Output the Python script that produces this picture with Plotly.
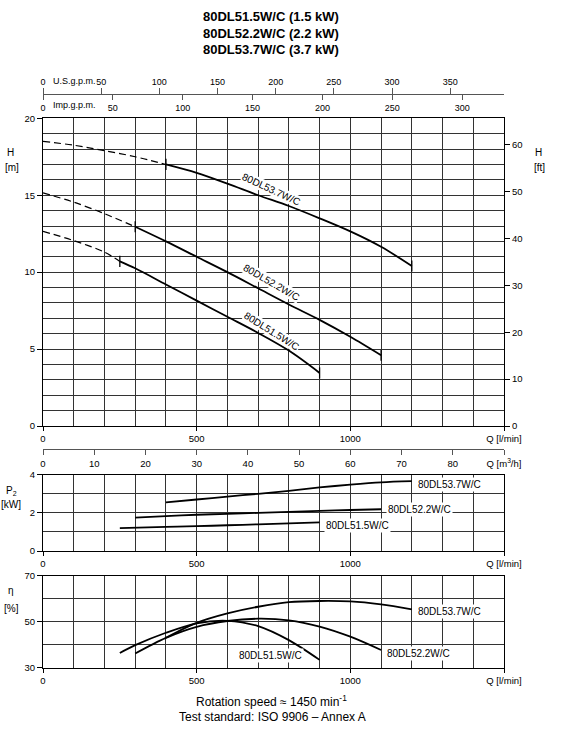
import plotly.graph_objects as go

W, HGT = 565, 730

# ---------------- data ----------------
# H-Q curves (l/min, m)
Q_37_dash = [0, 100, 200, 300, 400]
H_37_dash = [18.5, 18.25, 17.9, 17.5, 17.0]
Q_37 = [400, 500, 600, 700, 800, 900, 1000, 1100, 1200]
H_37 = [17.0, 16.45, 15.75, 15.0, 14.3, 13.5, 12.65, 11.65, 10.4]

Q_22_dash = [0, 100, 200, 300]
H_22_dash = [15.15, 14.55, 13.8, 12.95]
Q_22 = [300, 400, 500, 600, 700, 800, 900, 1000, 1100]
H_22 = [12.95, 12.0, 11.0, 10.0, 8.95, 7.9, 6.9, 5.8, 4.6]

Q_15_dash = [0, 100, 200, 250]
H_15_dash = [12.65, 12.05, 11.3, 10.7]
Q_15 = [250, 300, 400, 500, 600, 700, 800, 900]
H_15 = [10.7, 10.25, 9.2, 8.15, 7.1, 6.05, 4.9, 3.45]

# P2 curves (l/min, kW)
P_Q_37 = [400, 500, 600, 700, 800, 900, 1000, 1100, 1200]
P_37 = [2.55, 2.7, 2.85, 3.0, 3.15, 3.33, 3.48, 3.6, 3.66]
P_Q_22 = [300, 400, 500, 600, 700, 800, 900, 1000, 1100]
P_22 = [1.75, 1.83, 1.9, 1.95, 2.0, 2.05, 2.1, 2.15, 2.19]
P_Q_15 = [250, 400, 500, 600, 700, 800, 900]
P_15 = [1.2, 1.26, 1.3, 1.35, 1.4, 1.45, 1.5]

# efficiency curves (l/min, %)
E_Q_37 = [400, 500, 600, 700, 800, 900, 1000, 1100, 1200]
E_37 = [43.0, 49.5, 53.6, 56.5, 58.5, 59.0, 58.8, 57.5, 55.4]
E_Q_22 = [300, 400, 500, 600, 700, 800, 900, 1000, 1100]
E_22 = [36.2, 43.0, 47.8, 50.3, 51.3, 50.6, 47.9, 43.5, 37.7]
E_Q_15 = [250, 300, 400, 500, 600, 700, 800, 900]
E_15 = [36.4, 39.8, 45.2, 49.3, 50.4, 48.1, 42.0, 33.4]

models = ["80DL53.7W/C", "80DL52.2W/C", "80DL51.5W/C"]
titles = ["80DL51.5W/C (1.5 kW)", "80DL52.2W/C (2.2 kW)", "80DL53.7W/C (3.7 kW)"]

Q_TICKS = [0, 500, 1000, 1500]
Q_TEXT = ["0", "500", "1000", "Q [l/min]"]
Q_MINOR = list(range(0, 1501, 100))
M3H_TICKS = list(range(0, 91, 10))
M3H_TEXT = [str(v) for v in range(0, 81, 10)] + ["Q [m<sup>3</sup>/h]"]
USG_TICKS = list(range(0, 351, 50))
IMP_TICKS = list(range(0, 301, 50))

L_PER_USG = 3.785411784
L_PER_IMP = 4.54609
M_PER_FT = 0.3048
Q_MAX = 1500

# ---------------- layout helpers ----------------
def px(x):
    return x / W

def py(y):
    return 1 - y / HGT

TICKFONT = dict(family="Liberation Sans Narrow, Liberation Sans, Arial", size=9.5, color="black")
SMALLFONT = dict(family="Liberation Sans Narrow, Liberation Sans, Arial", size=9, color="black")
UNITFONT = dict(family="Liberation Sans Narrow, Liberation Sans, Arial", size=10, color="black")
LABFONT = dict(family="Liberation Sans, Arial", size=10, color="black")
GRID = "#333333"
XDOM = [px(43), px(504)]

fig = go.Figure()

def line(x, y, xa, ya, dash=None, width=1.8):
    fig.add_trace(go.Scatter(x=x, y=y, mode="lines", xaxis=xa, yaxis=ya,
                             line=dict(color="black", width=width if dash is None else 1.2,
                                       dash=dash, shape="spline", smoothing=0.9),
                             showlegend=False, hoverinfo="skip"))

# H plot
for qd, hd, qs, hs in [(Q_37_dash, H_37_dash, Q_37, H_37),
                       (Q_22_dash, H_22_dash, Q_22, H_22),
                       (Q_15_dash, H_15_dash, Q_15, H_15)]:
    line(qd, hd, "x", "y", dash="7px,4px")
    line(qs, hs, "x", "y")
    fig.add_trace(go.Scatter(x=[qs[0], qs[-1]], y=[hs[0], hs[-1]], mode="markers",
                             xaxis="x", yaxis="y", showlegend=False, hoverinfo="skip",
                             marker=dict(symbol="line-ns-open", size=8, color="black",
                                         line=dict(color="black", width=1.3))))

# helper empty traces for extra axes
for xa, ya in [("x2", "y"), ("x3", "y"), ("x4", "y"), ("x", "y2")]:
    fig.add_trace(go.Scatter(x=[None], y=[None], xaxis=xa, yaxis=ya, showlegend=False))

# P2 plot
line(P_Q_37, P_37, "x5", "y3")
line(P_Q_22, P_22, "x5", "y3")
line(P_Q_15, P_15, "x5", "y3")

# efficiency plot
line(E_Q_37, E_37, "x6", "y4")
line(E_Q_22, E_22, "x6", "y4")
line(E_Q_15, E_15, "x6", "y4")

def qaxis(anchor):
    return dict(domain=XDOM, range=[0, Q_MAX], anchor=anchor, tickmode="array",
                tickvals=Q_TICKS, ticktext=Q_TEXT, ticks="outside", ticklen=4,
                tickcolor="black", showgrid=True, gridcolor=GRID, gridwidth=1,
                minor=dict(tickmode="array", tickvals=Q_MINOR, showgrid=True,
                           gridcolor=GRID, gridwidth=1, ticks=""),
                showline=True, linecolor="black", linewidth=1, mirror=True,
                tickfont=TICKFONT, zeroline=False, fixedrange=True, automargin=False)

def yax(dom, rng, dtick, minor, tick0=0):
    return dict(domain=dom, range=rng, tick0=tick0, dtick=dtick, ticks="outside",
                ticklen=5, tickcolor="black", showgrid=True, gridcolor=GRID,
                gridwidth=1, minor=dict(dtick=minor, tick0=tick0, showgrid=True,
                                        gridcolor=GRID, gridwidth=1, ticks=""),
                showline=True, linecolor="black", linewidth=1, mirror=True,
                tickfont=TICKFONT, zeroline=False, fixedrange=True, automargin=False)

fig.update_layout(
    width=W, height=HGT, margin=dict(l=0, r=0, t=0, b=0, autoexpand=False),
    paper_bgcolor="white", plot_bgcolor="white",
    xaxis=qaxis("y"),
    yaxis=yax([py(426), py(118.3)], [0, 20], 5, 1),
    yaxis2=dict(overlaying="y", side="right", anchor="x", range=[0, 20 / M_PER_FT],
                dtick=10, ticks="outside", ticklen=5, tickcolor="black",
                showgrid=False, zeroline=False, showline=False, tickfont=TICKFONT,
                fixedrange=True, automargin=False),
    xaxis2=dict(overlaying="x", anchor="free", position=py(449.3), side="bottom",
                range=[0, Q_MAX * 60 / 1000], tickmode="array", tickvals=M3H_TICKS,
                ticktext=M3H_TEXT, ticks="outside", ticklen=5, tickcolor="#555",
                showline=True, linecolor="#555", linewidth=1, showgrid=False,
                zeroline=False, tickfont=TICKFONT, fixedrange=True, automargin=False),
    xaxis3=dict(overlaying="x", anchor="free", position=py(94.3), side="top",
                range=[0, Q_MAX / L_PER_USG], tickmode="array", tickvals=USG_TICKS,
                ticks="outside", ticklen=6, tickcolor="#555", showline=True,
                linecolor="#555", linewidth=1, showgrid=False, zeroline=False,
                tickfont=SMALLFONT, fixedrange=True, automargin=False),
    xaxis4=dict(overlaying="x", anchor="free", position=py(94.3), side="bottom",
                range=[0, Q_MAX / L_PER_IMP], tickmode="array", tickvals=IMP_TICKS,
                ticks="outside", ticklen=5, tickcolor="#555", showline=False,
                showgrid=False, zeroline=False, tickfont=SMALLFONT, fixedrange=True,
                automargin=False),
    xaxis5=qaxis("y3"),
    yaxis3=yax([py(551), py(474.7)], [0, 4], 2, 1),
    xaxis6=qaxis("y4"),
    yaxis4=yax([py(667.7), py(575.7)], [30, 70], 20, 10, tick0=30),
)

ann = []
# titles
for t, yy in zip(titles, [16.7, 33.3, 49.3]):
    ann.append(dict(x=px(271), y=py(yy), text="<b>%s</b>" % t, showarrow=False,
                    xref="paper", yref="paper", xanchor="center", yanchor="middle",
                    font=dict(family="Liberation Sans, Arial", size=13, color="black")))
# axis unit labels
for txt, x, y in [("H", 10, 153), ("[m]", 12, 168), ("H", 538, 153), ("[ft]", 539, 168),
                  ("P<sub>2</sub>", 11, 491), ("[kW]", 11, 504), ("η", 11, 590),
                  ("[%]", 11, 608)]:
    ann.append(dict(x=px(x), y=py(y), text=txt, showarrow=False, xref="paper",
                    yref="paper", xanchor="center", yanchor="middle", font=UNITFONT))
ann.append(dict(x=px(74), y=py(81), text="U.S.g.p.m.", showarrow=False, xref="paper",
                yref="paper", xanchor="center", yanchor="middle", font=SMALLFONT))
ann.append(dict(x=px(74), y=py(105), text="Imp.g.p.m.", showarrow=False, xref="paper",
                yref="paper", xanchor="center", yanchor="middle", font=SMALLFONT))

# curve labels on H plot (rotated)
for txt, x, y, ang in [(models[0], 744, 15.4, 25), (models[1], 744, 9.32, 30),
                       (models[2], 745, 6.12, 32)]:
    ann.append(dict(x=x, y=y, xref="x", yref="y", text=txt, showarrow=False,
                    textangle=ang, bgcolor="white", borderpad=0,
                    xanchor="center", yanchor="middle", font=LABFONT))
# P2 labels
for txt, x, y in [(models[0], 1323, 3.51), (models[1], 1225, 2.15), (models[2], 1022, 1.36)]:
    ann.append(dict(x=x, y=y, xref="x5", yref="y3", text=txt, showarrow=False,
                    bgcolor="white", borderpad=1, xanchor="center", yanchor="middle",
                    font=LABFONT))
# efficiency labels
for txt, x, y in [(models[0], 1323, 54.65), (models[1], 1223, 35.96), (models[2], 740, 35.2)]:
    ann.append(dict(x=x, y=y, xref="x6", yref="y4", text=txt, showarrow=False,
                    bgcolor="white", borderpad=1, xanchor="center", yanchor="middle",
                    font=LABFONT))
# footer
ann.append(dict(x=px(271), y=py(701), xref="paper", yref="paper",
                text="Rotation speed ≈ 1450 min<sup>-1</sup>", showarrow=False,
                xanchor="center", yanchor="middle",
                font=dict(family="Liberation Sans, Arial", size=12, color="black")))
ann.append(dict(x=px(272), y=py(717), xref="paper", yref="paper",
                text="Test standard: ISO 9906 – Annex A", showarrow=False,
                xanchor="center", yanchor="middle",
                font=dict(family="Liberation Sans, Arial", size=12, color="black")))
fig.update_layout(annotations=ann)

fig.write_html("out.html")
